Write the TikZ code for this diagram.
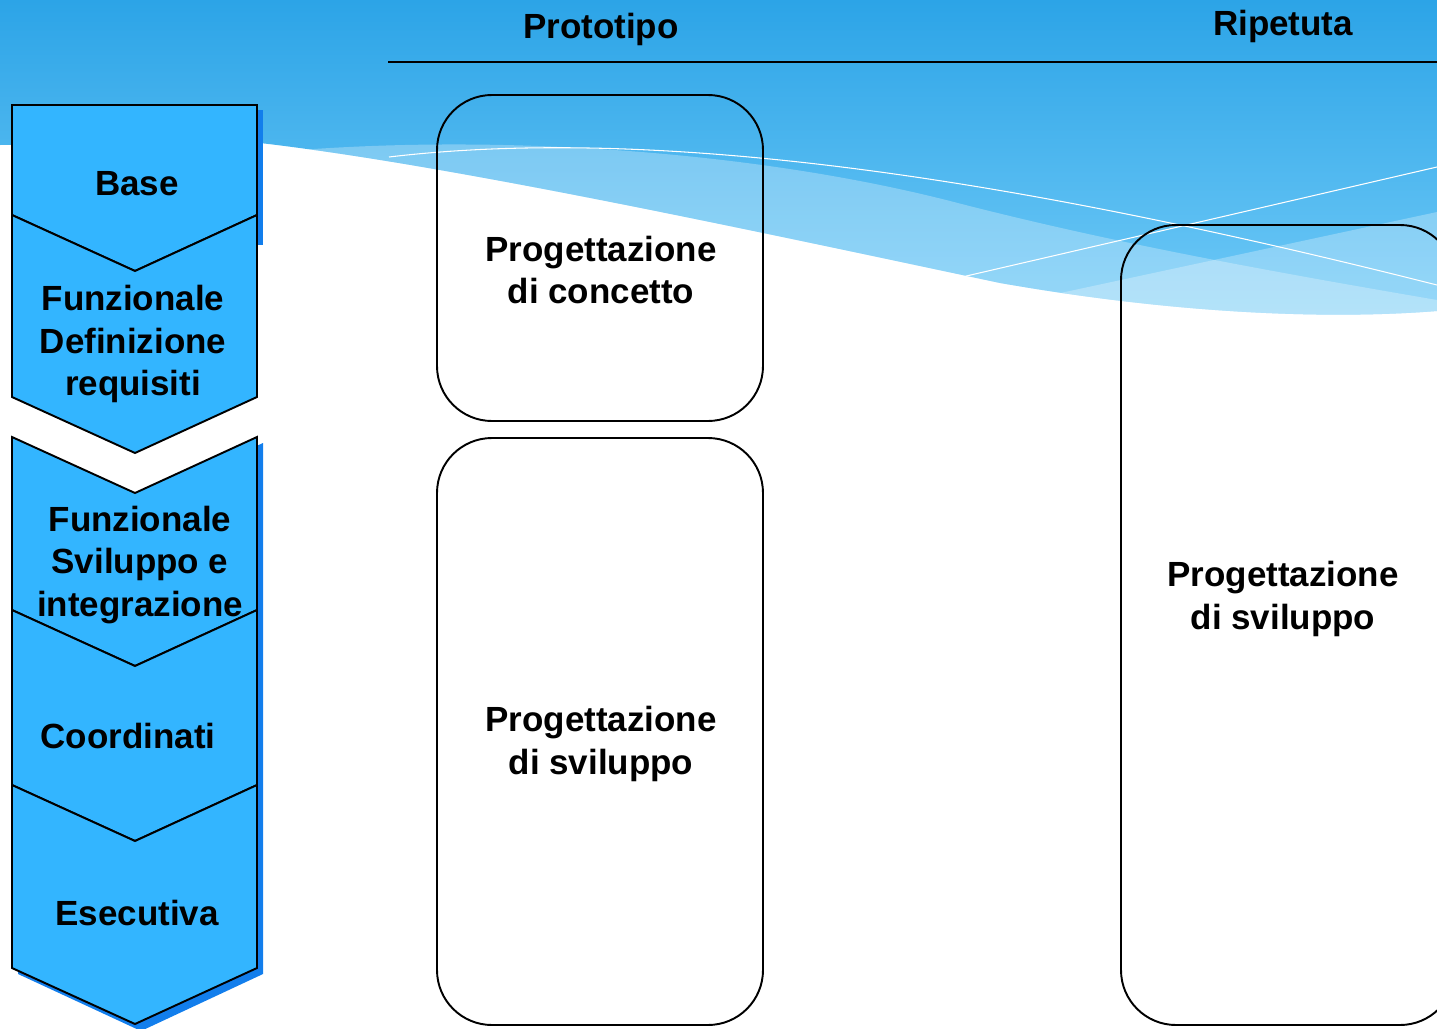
\documentclass[tikz,border=0pt]{standalone}
\usepackage{fontspec}
\setmainfont{Liberation Sans}
\usetikzlibrary{calc}

\definecolor{chevblue}{RGB}{51,181,255}
\definecolor{shadowblue}{RGB}{18,126,236}
\definecolor{skytop}{RGB}{44,164,231}
\definecolor{skylow}{RGB}{112,202,247}

\tikzset{
    phase/.style={font=\bfseries\fontsize{19.9}{24.2}\selectfont,
        align=center, inner sep=0pt},
    lane/.style={draw=black, line width=1.1pt, rounded corners=1.1cm},
    chev/.style={fill=chevblue, draw=black, line width=1.1pt,
        line join=miter},
    veil/.style={fill=white, fill opacity=0.28},
    wisp/.style={draw=white, line width=0.6pt},
}

\begin{document}
\begin{tikzpicture}[x=0.02cm, y=-0.02cm]

% Page frame, same size as the slide.
\useasboundingbox (0,0) rectangle (1437,1028);
\clip (0,0) rectangle (1437,1028);

%
% Sky waves behind everything.
%
\begin{scope}
    % sky ends at the white wave edge
    \clip
        (0,0) -- (1437,0) -- (1437,311)
        .. controls (1350,318) and (1200,318) .. (1000,283)
        .. controls (750,230) and (450,165) .. (260,143)
        -- (0,145) -- cycle;
    % dark blue gradient
    \shade[top color=skytop, bottom color=skylow]
        (0,0) rectangle (1437,320);
    % light band going down to the right
    \fill[veil]
        (300,150) .. controls (500,135) and (750,150) .. (950,201)
        .. controls (1100,240) and (1250,268) .. (1437,300)
        -- (1437,400) -- (300,400) -- cycle;
    % light wedge rising on the right
    \fill[veil]
        (1000,306) -- (1437,212) -- (1437,400) -- (1000,400) -- cycle;
    % thin white wisps
    \draw[wisp]
        (389,157) .. controls (700,120) and (1100,200) .. (1437,285);
    \draw[wisp]
        (962,277) -- (1437,167);
\end{scope}

%
% Column headers.
%
\node[phase] (proto) at (601,29) {Prototipo};
\node[phase] (repeat) at (1283,26) {Ripetuta};
\draw[line width=1.1pt]
    (388,62) coordinate (headL)
    -- (1437,62) coordinate (headR);

%
% Shadows under the chevrons.
%
\fill[shadowblue] (257,110) rectangle (263,245);
\fill[shadowblue]
    (18,443) -- (141,499) -- (263,443)
    -- (263,974) -- (141,1031) -- (18,974) -- cycle;

% Loop for each chevron: top, side bottom, notch on top.
\foreach \top/\bot/\n in {105/215/0,215/397/1,437/610/1,610/785/1,785/968/1} {

    % Draw chevron body.
    \draw[chev]
        (12,\top) -- ++(123,\n*56) -- (257,\top)
        -- (257,\bot) -- (135,\bot+56)
        -- (12,\bot) -- cycle;
}

% Chevron labels.
\node[phase] (base) at (137,184) {Base};
\node[phase] (defreq) at (133,344) {Funzionale\\Definizione\\requisiti};
\node[phase] (svint) at (140,565) {Funzionale\\Sviluppo e\\integrazione};
\node[phase] (coord) at (128,736) {Coordinati};
\node[phase] (exec) at (137,913) {Esecutiva};

%
% Lanes with rounded corners.
%
\draw[lane] (437,95) rectangle (763,421);
\draw[lane] (437,438) rectangle (763,1025);
\draw[lane] (1121,225) rectangle (1455,1025);

% Lane labels.
\node[phase] (concept) at (601,270) {Progettazione\\di concetto};
\node[phase] (devproto) at (601,744) {Progettazione\\di sviluppo};
\node[phase] (devrep) at (1283,599) {Progettazione\\di sviluppo};

\end{tikzpicture}
\end{document}
